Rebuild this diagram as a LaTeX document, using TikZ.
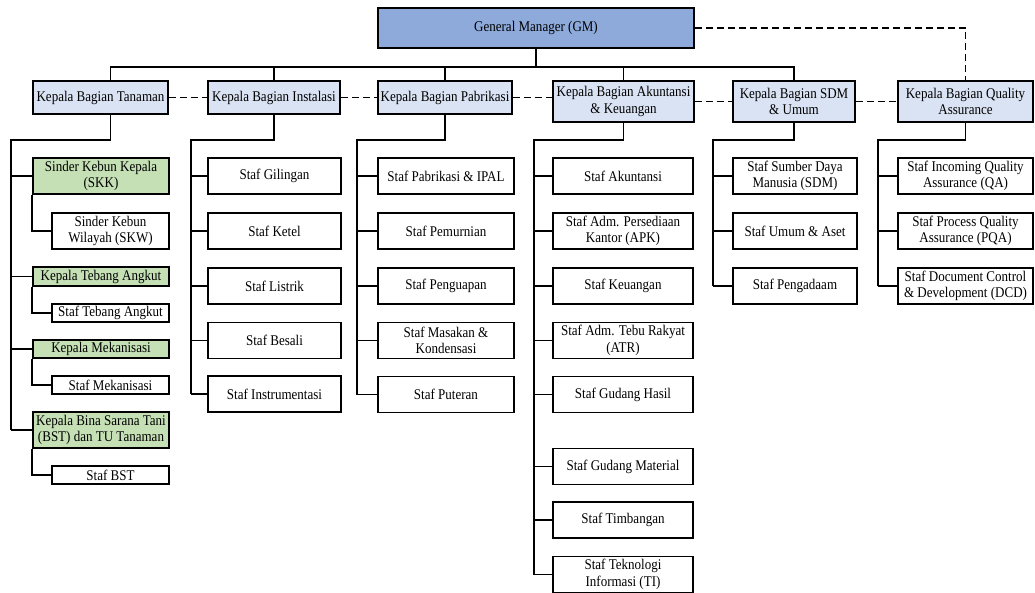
\documentclass[tikz,border=0pt]{standalone}
\usepackage{fontspec}
\setmainfont{Liberation Serif}[FakeStretch=0.88]
\definecolor{gmblue}{RGB}{142,170,219}
\definecolor{kabagblue}{RGB}{218,227,243}
\definecolor{kepalagreen}{RGB}{197,224,180}
\tikzstyle{box}=[draw,line width=1.8pt,align=center,inner sep=0pt,font=\fontsize{14.8}{16.5}\selectfont]
\tikzstyle{gm box}=[box,fill=gmblue,minimum width=316pt,minimum height=40pt]
\tikzstyle{kabag}=[box,fill=kabagblue]
\tikzstyle{kepala}=[box,fill=kepalagreen]
\tikzstyle{staf}=[box,fill=white]
\tikzstyle{edge}=[draw,line width=1.8pt]
\tikzstyle{dashed edge}=[draw,line width=1.8pt,dash pattern=on 7pt off 4pt]
\begin{document}
\begin{tikzpicture}[x=1pt,y=-1pt]
\useasboundingbox (0,0) rectangle (1035,593);
\node[gm box] (GM) at (536,28) {General Manager (GM)};
\foreach \pos/\name/\bw/\bh/\txt in {{(100.5,97.5)/tan/135/33/{Kepala Bagian Tanaman}},
                                    {(274,97.5)/ins/132/33/{Kepala Bagian Instalasi}},
                                    {(445,97.5)/pab/134/33/{Kepala Bagian Pabrikasi}},
                                    {(623.5,101.5)/akt/141/41/{Kepala Bagian Akuntansi\\\& Keuangan}},
                                    {(794,101.5)/sdm/122/41/{Kepala Bagian SDM\\\& Umum}},
                                    {(965.5,101.5)/qa/135/41/{Kepala Bagian Quality\\Assurance}}}{
  \node[kabag,minimum width=\bw pt,minimum height=\bh pt] (\name) at \pos {\txt};
}
\foreach \pos/\name/\bh/\txt in {{(101,176)/skk/36/{Sinder Kebun Kepala\\(SKK)}},
                                {(101,276.5)/kta/19/{Kepala Tebang Angkut}},
                                {(101,349)/kmk/18/{Kepala Mekanisasi}},
                                {(101,430)/kbst/36/{Kepala Bina Sarana Tani\\(BST) dan TU Tanaman}}}{
  \node[kepala,minimum width=136pt,minimum height=\bh pt] (\name) at \pos {\txt};
}
\foreach \pos/\name/\bw/\bh/\txt in {{(110.5,231)/skw/117/36/{Sinder Kebun\\Wilayah (SKW)}},
                                    {(110.5,313)/sta/117/18/{Staf Tebang Angkut}},
                                    {(110.5,385)/smk/117/18/{Staf Mekanisasi}},
                                    {(110.5,475)/sbst/117/18/{Staf BST}},
                                    {(274.5,176)/ins1/133/36/{Staf Gilingan}},
                                    {(274.5,231)/ins2/133/36/{Staf Ketel}},
                                    {(274.5,286)/ins3/133/36/{Staf Listrik}},
                                    {(274.5,340.5)/ins4/133/36/{Staf Besali}},
                                    {(274.5,394)/ins5/133/36/{Staf Instrumentasi}},
                                    {(446,176)/pab1/136/36/{Staf Pabrikasi \& IPAL}},
                                    {(446,231)/pab2/136/36/{Staf Pemurnian}},
                                    {(446,286)/pab3/136/36/{Staf Penguapan}},
                                    {(446,340.5)/pab4/136/36/{Staf Masakan \&\\Kondensasi}},
                                    {(446,394.5)/pab5/136/36/{Staf Puteran}},
                                    {(623,176)/akt1/140/36/{Staf Akuntansi}},
                                    {(623,231)/akt2/140/36/{Staf Adm. Persediaan\\Kantor (APK)}},
                                    {(623,286)/akt3/140/36/{Staf Keuangan}},
                                    {(623,340.5)/akt4/140/36/{Staf Adm. Tebu Rakyat\\(ATR)}},
                                    {(623,394.5)/akt5/140/36/{Staf Gudang Hasil}},
                                    {(623,466.5)/akt6/140/36/{Staf Gudang Material}},
                                    {(623,520)/akt7/140/36/{Staf Timbangan}},
                                    {(623,574.5)/akt8/140/36/{Staf Teknologi\\Informasi (TI)}},
                                    {(795,176)/sdm1/124/36/{Staf Sumber Daya\\Manusia (SDM)}},
                                    {(795,231)/sdm2/124/36/{Staf Umum \& Aset}},
                                    {(795,286)/sdm3/124/36/{Staf Pengadaam}},
                                    {(965.5,176)/qa1/135/36/{Staf Incoming Quality\\Assurance (QA)}},
                                    {(965.5,231)/qa2/135/36/{Staf Process Quality\\Assurance (PQA)}},
                                    {(965.5,286)/qa3/135/36/{Staf Document Control\\\& Development (DCD)}}}{
  \node[staf,minimum width=\bw pt,minimum height=\bh pt] (\name) at \pos {\txt};
}
\foreach \name/\dx in {tan/10,ins/0,pab/0,akt/0,sdm/0}
  \path[edge] (GM.south) -- ++(0,18) -| ([xshift=\dx pt]\name.north);
\path[dashed edge] (GM.east) -| (qa.north);
\foreach \a/\b in {tan/ins,ins/pab,pab/akt,akt/sdm,sdm/qa}
  \path[dashed edge] (\a.east) -- (\a.east -| \b.west);
\foreach \head/\dx/\x/\last/\kids in {tan/10/11/kbst/{skk,kta,kmk,kbst},
                                      ins/0/191/ins5/{ins1,ins2,ins3,ins4,ins5},
                                      pab/0/357/pab5/{pab1,pab2,pab3,pab4,pab5},
                                      akt/0/534/akt8/{akt1,akt2,akt3,akt4,akt5,akt6,akt7,akt8},
                                      sdm/0/713/sdm3/{sdm1,sdm2,sdm3},
                                      qa/0/878/qa3/{qa1,qa2,qa3}}{
  \coordinate (\head bus) at (\x,140);
  \path[edge] ([xshift=\dx pt]\head.south) |- (\head bus) -- (\head bus |- \last.west);
  \foreach \k in \kids
    \path[edge] (\head bus |- \k.west) -- (\k.west);
}
\foreach \a/\b in {skk/skw,kta/sta,kmk/smk,kbst/sbst}
  \path[edge] (\a.south west) |- (\b.west);
\end{tikzpicture}
\end{document}
